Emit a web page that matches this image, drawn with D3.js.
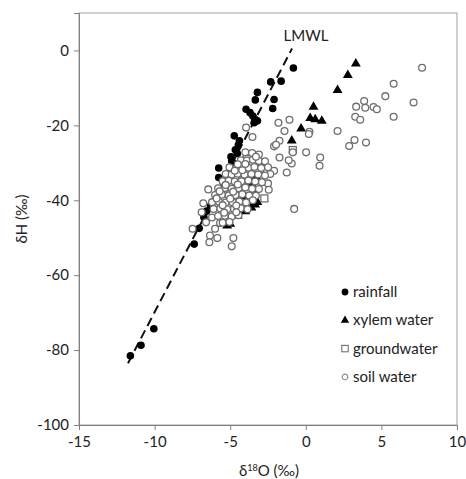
<!DOCTYPE html>
<html>
<head>
<meta charset="utf-8">
<script src="https://cdn.jsdelivr.net/npm/d3@7"></script>
<style>
  body { margin: 0; background: #fff; }
  svg { font-family: Lato, "Open Sans", sans-serif; }
</style>
</head>
<body>
<svg width="466" height="479"></svg>
<script>
// axis settings
const xTicks = [-15, -10, -5, 0, 5, 10];
const yTicks = [-100, -80, -60, -40, -20, 0];

// local meteoric water line end points (d18O, dH)
const lmwl = [[-11.76, -83.5], [-0.91, 0.5]];

const rainfall = [
  [-11.6, -81.5], [-10.9, -78.7], [-10.05, -74.3], [-7.38, -51.7], [-7.05, -47.5],
  [-6.74, -44.5], [-6.56, -42.9], [-6.3, -41.5], [-0.82, -4.7], [-2.32, -8.4],
  [-1.63, -8.2], [-2.1, -13.1], [-2.19, -15.5], [-3.2, -11.2], [-3.34, -13.2],
  [-3.95, -15.7], [-3.69, -16.6], [-3.5, -17.5], [-3.36, -18.4], [-3.2, -18.8],
  [-3.42, -19.3], [-4.73, -22.8], [-4.39, -24.1], [-4.46, -25.2], [-4.66, -26.5],
  [-4.53, -27.5], [-4.95, -28.4], [-4.9, -29.5], [-4.79, -30.1], [-5.76, -31.4],
  [-5.76, -33.9], [-4.13, -38.8], [-3.0, -30.2], [-3.55, -35.8]
];

const xylem = [
  [3.31, -3.5], [2.78, -6.6], [2.1, -10.6], [0.51, -15.1], [0.29, -18.1],
  [0.62, -18.4], [1.06, -18.8], [-0.31, -20.9], [-0.93, -24.1],
  [-2.8, -30.5], [-2.6, -32.2], [-3.3, -33.6], [-3.4, -37.2], [-3.2, -40.5],
  [-3.6, -42.0], [-4.0, -43.0], [-4.5, -44.1], [-4.7, -44.0], [-5.0, -46.3],
  [-5.2, -46.8], [-3.35, -41.2]
];

const groundwater = [
  [-0.86, -26.6], [-2.74, -39.5], [-4.2, -34.5], [-5.0, -38.0], [-3.9, -29.0]
];

const soilwater = [
  // scattered, enriched samples
  [7.69, -4.6], [5.81, -8.9], [5.26, -12.2], [7.13, -13.9], [3.86, -13.5],
  [3.33, -15.0], [3.93, -15.3], [4.48, -15.1], [4.7, -15.7], [5.81, -17.7],
  [3.27, -17.7], [3.6, -18.5], [2.1, -21.5], [3.22, -23.9], [3.98, -24.6],
  [2.87, -25.5], [0.24, -21.7], [0.2, -22.3], [0.02, -27.2], [0.95, -28.6],
  [0.91, -30.8], [-0.86, -27.2], [-0.93, -30.2], [-1.13, -29.3], [-1.26, -32.6],
  [-0.77, -42.3], [-1.08, -18.5], [-1.81, -19.3], [-1.41, -21.5], [-1.74, -24.1],
  [-2.1, -25.6], [-1.97, -25.2], [-1.74, -28.6], [-2.1, -32.1], [-2.65, -31.7],
  [-2.35, -33.0], [-2.5, -35.5], [-2.45, -37.2], [-3.95, -20.6], [-3.53, -23.1],
  [-6.45, -37.1], [-6.78, -40.8], [-6.89, -43.2], [-7.49, -47.6], [-6.34, -49.4],
  [-6.38, -51.2], [-5.85, -50.1], [-4.79, -50.1], [-4.9, -52.3], [-6.0, -47.6],
  [-5.67, -46.1], [-6.6, -45.9], [-6.2, -44.6],
  // dense cluster
  [-4.0, -27.2], [-3.55, -27.4], [-3.1, -27.8],
  [-4.3, -29.3], [-3.9, -29.4], [-3.5, -29.2], [-3.1, -29.5], [-2.7, -29.6],
  [-5.05, -31.2], [-4.6, -31.3], [-4.2, -31.0], [-3.8, -31.3], [-3.4, -31.1], [-2.95, -31.4], [-2.5, -31.2],
  [-5.3, -33.0], [-4.9, -33.1], [-4.5, -32.9], [-4.05, -33.2], [-3.6, -33.0], [-3.15, -33.1], [-2.7, -33.4],
  [-5.5, -34.9], [-5.1, -34.8], [-4.7, -35.0], [-4.25, -34.9], [-3.8, -34.7], [-3.35, -35.0], [-2.9, -35.2],
  [-5.8, -36.8], [-5.35, -36.7], [-4.9, -36.9], [-4.45, -36.8], [-4.0, -36.6], [-3.55, -36.9], [-3.1, -37.0],
  [-6.0, -38.6], [-5.55, -38.5], [-5.1, -38.7], [-4.65, -38.6], [-4.2, -38.4], [-3.75, -38.7], [-3.3, -38.8],
  [-6.2, -40.5], [-5.75, -40.4], [-5.3, -40.6], [-4.85, -40.5], [-4.4, -40.3], [-3.95, -40.6], [-3.5, -40.0],
  [-6.1, -42.3], [-5.65, -42.2], [-5.2, -42.4], [-4.75, -42.3], [-4.3, -42.1], [-3.85, -42.4],
  [-5.8, -44.2], [-5.35, -44.1], [-4.9, -44.3], [-4.45, -44.0],
  [-5.5, -46.0], [-5.05, -45.8],
  [-4.5, -30.4], [-4.0, -30.3], [-3.3, -28.4], [-4.7, -32.1], [-4.2, -32.0],
  [-5.3, -35.9], [-4.5, -35.8], [-5.7, -37.6], [-4.8, -37.7], [-5.9, -39.5], [-5.0, -39.6],
  [-5.5, -41.3], [-4.6, -41.4], [-5.4, -43.3], [-4.6, -43.2]
];

// legend entries
const legendItems = ["rainfall", "xylem water", "groundwater", "soil water"];

const svg = d3.select("svg");
const margin = { top: 13, right: 9, bottom: 54, left: 79 };
const width = 466 - margin.left - margin.right;
const height = 479 - margin.top - margin.bottom;

const g = svg.append("g").attr("transform", `translate(${margin.left},${margin.top})`);

const x = d3.scaleLinear().domain([-15, 10]).range([0, width]);
const y = d3.scaleLinear().domain([-100, 10]).range([height, 0]);

// plot frame
g.append("rect")
  .attr("width", width)
  .attr("height", height)
  .attr("fill", "none")
  .attr("stroke", "#a0a0a0");

// plain hyphen for negatives, like the original
const fmt = (d) => String(d);

const xAxis = g.append("g")
  .attr("transform", `translate(0,${height})`)
  .call(d3.axisBottom(x).tickValues(xTicks).tickFormat(fmt).tickSize(5).tickPadding(6));
const yAxis = g.append("g")
  .call(d3.axisLeft(y).tickValues(yTicks).tickFormat(fmt).tickSize(5).tickPadding(5));

[xAxis, yAxis].forEach((a) => {
  a.select(".domain").attr("stroke", "#808080");
  a.selectAll(".tick line").attr("stroke", "#808080");
  a.selectAll(".tick text")
    .attr("fill", "#222")
    .style("font-size", "15px")
    .style("font-family", "Lato, sans-serif");
});

// LMWL
g.append("line")
  .attr("x1", x(lmwl[0][0]))
  .attr("y1", y(lmwl[0][1]))
  .attr("x2", x(lmwl[1][0]))
  .attr("y2", y(lmwl[1][1]))
  .attr("stroke", "#111")
  .attr("stroke-width", 2)
  .attr("stroke-dasharray", "9,5");

g.append("text")
  .attr("x", x(lmwl[1][0]) + 14)
  .attr("y", y(lmwl[1][1]) - 8)
  .attr("text-anchor", "middle")
  .attr("fill", "#222")
  .style("font-size", "15px")
  .text("LMWL");

// rainfall
g.selectAll(".rain")
  .data(rainfall)
  .enter()
  .append("circle")
  .attr("class", "rain")
  .attr("cx", (d) => x(d[0]))
  .attr("cy", (d) => y(d[1]))
  .attr("r", 3.8)
  .attr("fill", "#000");

// xylem water
const tri = d3.symbol().type(d3.symbolTriangle).size(42);
g.selectAll(".xylem")
  .data(xylem)
  .enter()
  .append("path")
  .attr("class", "xylem")
  .attr("d", tri)
  .attr("transform", (d) => `translate(${x(d[0])},${y(d[1])})`)
  .attr("fill", "#000");

// groundwater
g.selectAll(".ground")
  .data(groundwater)
  .enter()
  .append("rect")
  .attr("class", "ground")
  .attr("x", (d) => x(d[0]) - 3.5)
  .attr("y", (d) => y(d[1]) - 3.5)
  .attr("width", 7)
  .attr("height", 7)
  .attr("fill", "#fff")
  .attr("stroke", "#666")
  .attr("stroke-width", 1.2);

// soil water
g.selectAll(".soil")
  .data(soilwater)
  .enter()
  .append("circle")
  .attr("class", "soil")
  .attr("cx", (d) => x(d[0]))
  .attr("cy", (d) => y(d[1]))
  .attr("r", 3.4)
  .attr("fill", "#fff")
  .attr("stroke", "#6e6e6e")
  .attr("stroke-width", 1.3);

// legend
const legend = g.append("g").attr("transform", `translate(${345 - margin.left},${292 - margin.top})`);
legendItems.forEach((name, i) => {
  const row = legend.append("g").attr("transform", `translate(0,${i * 28.3})`);
  if (i === 0) {
    row.append("circle").attr("r", 3.4).attr("fill", "#000");
  } else if (i === 1) {
    row.append("path").attr("d", d3.symbol().type(d3.symbolTriangle).size(30)).attr("fill", "#000");
  } else if (i === 2) {
    row.append("rect").attr("x", -3.2).attr("y", -3.2).attr("width", 6.4).attr("height", 6.4)
      .attr("fill", "#fff").attr("stroke", "#707070").attr("stroke-width", 1.1);
  } else {
    row.append("circle").attr("r", 2.8).attr("fill", "#fff")
      .attr("stroke", "#8a8a8a").attr("stroke-width", 1.1);
  }
  row.append("text")
    .attr("x", 8)
    .attr("y", 5)
    .attr("fill", "#222")
    .style("font-size", "15px")
    .text(name);
});

// axis titles
const xt = svg.append("text")
  .attr("x", 269)
  .attr("y", 476)
  .attr("text-anchor", "middle")
  .attr("fill", "#222")
  .style("font-size", "15px");
xt.append("tspan").text("δ");
xt.append("tspan").attr("dy", -5).style("font-size", "9px").text("18");
xt.append("tspan").attr("dy", 5).text("O (‰)");

svg.append("text")
  .attr("transform", "translate(27,219) rotate(-90)")
  .attr("text-anchor", "middle")
  .attr("fill", "#222")
  .style("font-size", "15px")
  .text("δH (‰)");
</script>
</body>
</html>
